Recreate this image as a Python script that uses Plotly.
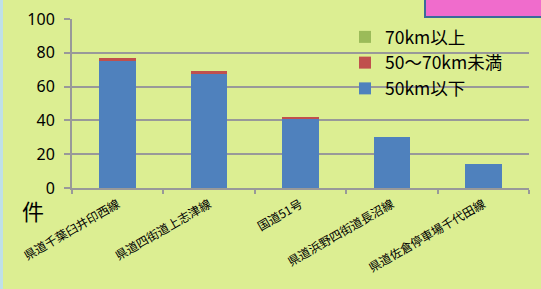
import plotly.graph_objects as go

categories = ["県道千葉臼井印西線", "県道四街道上志津線", "国道51号", "県道浜野四街道長沼線", "県道佐倉停車場千代田線"]
under50 = [75, 68, 41, 30, 14]
mid50_70 = [2, 1, 1, 0, 0]
over70 = [0, 0, 0, 0, 0]
series_names = ["50km以下", "50～70km未満", "70km以上"]
y_ticks = [0, 20, 40, 60, 80, 100]

colors = ["#4f81bd", "#c0504d", "#9bbb59"]
bg = "#dcee92"

L, R, T, B = 72, 12, 19, 101
W, H = 541, 289
pw, ph = W - L - R, H - T - B

def px(x):
    return (x - L) / pw

def py(y):
    return (H - B - y) / ph

fig = go.Figure()
for name, vals, c in zip(series_names, [under50, mid50_70, over70], colors):
    fig.add_trace(go.Bar(x=categories, y=vals, name=name, marker_color=c,
                         marker_line_width=0, width=0.4))

fig.update_layout(
    width=W, height=H,
    margin=dict(l=L, r=R, t=T, b=B, autoexpand=False),
    barmode="stack",
    paper_bgcolor=bg, plot_bgcolor=bg,
    font=dict(family="Noto Sans CJK JP", color="#000000"),
    showlegend=True,
    legend=dict(x=px(345), y=py(19), xanchor="left", yanchor="top",
                traceorder="reversed", bgcolor="rgba(0,0,0,0)",
                font=dict(size=17.5, family="Noto Sans CJK JP"),
                itemwidth=30, tracegroupgap=4),
    shapes=[
        dict(type="rect", xref="paper", yref="paper", x0=px(425), x1=px(560), y0=py(17), y1=py(-10),
             fillcolor="#f06ccc", line=dict(color="#3a6a9a", width=2), layer="above"),
        dict(type="rect", xref="paper", yref="paper", x0=px(-5), x1=px(3), y0=py(300), y1=py(-10),
             fillcolor="#bfe0e8", line=dict(width=0), layer="above"),
    ],
    annotations=[
        dict(text="件", xref="paper", yref="paper", x=px(33), y=py(210),
             xanchor="center", yanchor="middle",
             showarrow=False, font=dict(size=22, family="Noto Sans CJK JP"))
    ],
)

fig.update_yaxes(range=[0, 100], tickvals=y_ticks, showgrid=True, gridcolor="#999999",
                 gridwidth=1.5, showline=True, linecolor="#999999", linewidth=2,
                 ticks="outside", ticklen=6, tickcolor="#999999", tickwidth=2,
                 tickfont=dict(size=16, family="Noto Sans"), ticklabelstandoff=6,
                 zeroline=False, automargin=False)
fig.update_xaxes(showline=True, linecolor="#999999", linewidth=2, ticks="outside",
                 tickson="boundaries", ticklen=4, tickcolor="#999999", tickwidth=2,
                 tickangle=-30, tickfont=dict(size=12, family="Noto Sans CJK JP"),
                 ticklabelstandoff=3, automargin=False)

fig.write_html("out.html", config={"displayModeBar": False},
               post_script="document.body.style.margin='0';document.body.style.overflow='hidden';")
